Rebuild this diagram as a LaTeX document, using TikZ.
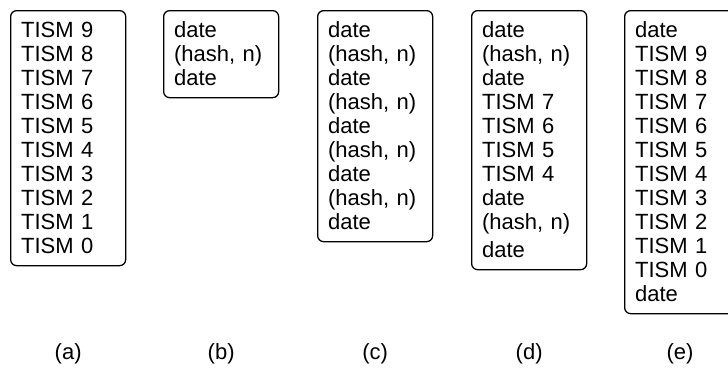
\documentclass[tikz,border=0pt]{standalone}
\usepackage{fontspec}
\setmainfont{Liberation Sans}
\usepackage{tikz}
\usetikzlibrary{positioning}

% one line of a list, always 24pt high
\newcommand{\rs}{\rule[-5pt]{0pt}{24pt}}

\begin{document}
\begin{tikzpicture}[
		x=1pt, y=-1pt,
		stack/.style={draw, rounded corners=6pt, line width=1.3pt, anchor=north west,
			align=left, text width=94pt, inner xsep=10.5pt, inner ysep=7.5pt,
			font=\fontsize{22}{24}\selectfont},
		caption/.style={anchor=base, font=\fontsize{22}{24}\selectfont}
		]
		\useasboundingbox (0,0) rectangle (728,367);
		\clip (0,0) rectangle (728,367);
		
		% Les listes
		\node[stack] (boxA) at (10,10) {\rs TISM 9\\ \rs TISM 8\\ \rs TISM 7\\ \rs TISM 6\\ \rs TISM 5\\
			\rs TISM 4\\ \rs TISM 3\\ \rs TISM 2\\ \rs TISM 1\\ \rs TISM 0};
		\node[stack] (boxB) at (163,10) {\rs date\\ \rs (hash, n)\\ \rs date};
		\node[stack] (boxC) at (317,10) {\rs date\\ \rs (hash, n)\\ \rs date\\ \rs (hash, n)\\ \rs date\\
			\rs (hash, n)\\ \rs date\\ \rs (hash, n)\\ \rs date};
		\node[stack] (boxD) at (471,10) {\rs date\\ \rs (hash, n)\\ \rs date\\ \rs TISM 7\\ \rs TISM 6\\
			\rs TISM 5\\ \rs TISM 4\\ \rs date\\ \rs (hash, n)\\[4pt] \rs date};
		\node[stack] (boxE) at (624,10) {\rs date\\ \rs TISM 9\\ \rs TISM 8\\ \rs TISM 7\\ \rs TISM 6\\
			\rs TISM 5\\ \rs TISM 4\\ \rs TISM 3\\ \rs TISM 2\\ \rs TISM 1\\ \rs TISM 0\\ \rs date};
		
		% Les légendes
		\node[caption] (capA) at (boxA.south |- 0,359) {(a)};
		\node[caption] (capB) at (boxB.south |- 0,359) {(b)};
		\node[caption] (capC) at (boxC.south |- 0,359) {(c)};
		\node[caption] (capD) at (boxD.south |- 0,359) {(d)};
		\node[caption] (capE) at (680,359) {(e)};
	\end{tikzpicture}
\end{document}
